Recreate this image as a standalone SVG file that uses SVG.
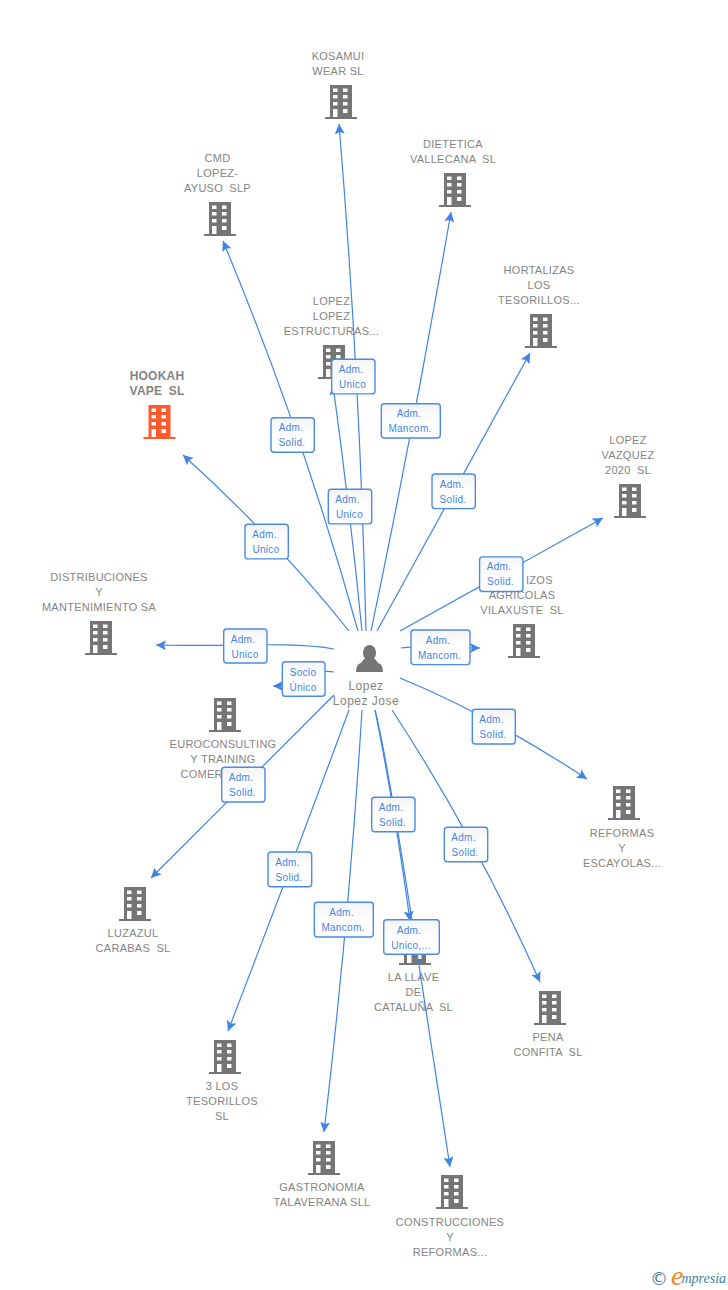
<svg xmlns="http://www.w3.org/2000/svg" width="728" height="1290" viewBox="0 0 728 1290">
<style>
text{font-family:"Liberation Sans",Arial,sans-serif}
.n{font-size:11px;fill:#848484;text-anchor:middle;letter-spacing:.27px}
.w{word-spacing:3px}
.s{text-anchor:start}
.h{font-size:12px;font-weight:bold;fill:#848484;text-anchor:middle;letter-spacing:.2px;word-spacing:3px}
.p{font-size:12px;fill:#848484;text-anchor:middle;letter-spacing:.5px}
.c{fill:none;stroke:#3f84e5;stroke-width:1.2;marker-end:url(#a)}
.b{fill:url(#g);stroke:#4a8ae8;stroke-width:1.4}
.l{font-size:10px;fill:#3f84e5;text-anchor:middle;letter-spacing:.3px}
.i{fill:#757575}
.o{fill:#ff5a2b}
</style>
<defs>
<linearGradient id="g" x1="0" y1="0" x2="0" y2="1"><stop offset="0" stop-color="#f4f4f6"/><stop offset=".5" stop-color="#fff"/></linearGradient>
<marker id="a" markerUnits="userSpaceOnUse" markerWidth="12" markerHeight="12" refX="10" refY="5" orient="auto"><path d="M0,0L10,5L0,10L2,5Z" fill="#3f84e5"/></marker>
<path id="b" fill-rule="evenodd" d="M5,0H27V32H32V34H0V32H5ZM8,3.5V7H12.5V3.500ZM18,3.500V7H22.500V3.500ZM8,10V13.500H12.500V10ZM18,10V13.500H22.500V10ZM8,17V20.500H12.500V17ZM18,17V20.500H22.500V17ZM8,24V32H12.500V24ZM18,24V28H22.500V24Z"/>
</defs>
<rect width="728" height="1290" fill="#fff"/>
<g id="node-kosamui"><text class="n" x="338" y="60">KOSAMUI</text><text class="n" x="338" y="75">WEAR SL</text><use href="#b" class="i" x="325" y="85"/></g>
<g id="node-dietetica"><text class="n" x="453" y="148">DIETETICA</text><text class="n w" x="453" y="163">VALLECANA SL</text><use href="#b" class="i" x="439" y="173"/></g>
<g id="node-cmd"><text class="n" x="217.500" y="162">CMD</text><text class="n" x="217.500" y="177">LOPEZ-</text><text class="n w" x="217.500" y="192">AYUSO SLP</text><use href="#b" class="i" x="204" y="202"/></g>
<g id="node-hortalizas"><text class="n" x="539" y="274">HORTALIZAS</text><text class="n" x="539" y="289">LOS</text><text class="n" x="539" y="304">TESORILLOS...</text><use href="#b" class="i" x="525" y="314"/></g>
<g id="node-lopez"><text class="n" x="331.500" y="305">LOPEZ</text><text class="n" x="331.500" y="320">LOPEZ</text><text class="n" x="331.500" y="335">ESTRUCTURAS...</text><use href="#b" class="i" x="318" y="345"/></g>
<g id="node-hookah"><text class="h" x="157" y="380">HOOKAH</text><text class="h" x="157" y="395">VAPE SL</text><use href="#b" class="o" x="143.500" y="405"/></g>
<g id="node-vazquez"><text class="n" x="628" y="444">LOPEZ</text><text class="n" x="628" y="459">VAZQUEZ</text><text class="n w" x="628" y="474">2020 SL</text><use href="#b" class="i" x="614" y="484"/></g>
<g id="node-distribuciones"><text class="n" x="99" y="581">DISTRIBUCIONES</text><text class="n" x="99" y="596">Y</text><text class="n" x="99" y="611">MANTENIMIENTO SA</text><use href="#b" class="i" x="85" y="621"/></g>
<g id="node-agricolas"><text class="n s" x="526" y="584">IZOS</text><text class="n" x="522" y="599">AGRICOLAS</text><text class="n w" x="522" y="614">VILAXUSTE SL</text><use href="#b" class="i" x="508" y="624"/></g>
<g id="node-euroconsulting"><use href="#b" class="i" x="209" y="698"/><text class="n" x="223" y="748">EUROCONSULTING</text><text class="n" x="223" y="763">Y TRAINING</text><text class="n s" x="180.500" y="778">COMER</text></g>
<g id="node-reformas"><use href="#b" class="i" x="608" y="786"/><text class="n" x="622" y="837">REFORMAS</text><text class="n" x="622" y="852">Y</text><text class="n" x="622" y="867">ESCAYOLAS...</text></g>
<g id="node-luzazul"><use href="#b" class="i" x="119" y="887"/><text class="n" x="133" y="937">LUZAZUL</text><text class="n w" x="133" y="952">CARABAS SL</text></g>
<g id="node-llave"><use href="#b" class="i" x="399" y="931"/><text class="n" x="413.500" y="981">LA LLAVE</text><text class="n" x="413.500" y="996">DE</text><text class="n w" x="413.500" y="1011">CATALUÑA SL</text></g>
<g id="node-pena"><use href="#b" class="i" x="534" y="991"/><text class="n" x="548" y="1041">PENA</text><text class="n w" x="548" y="1056">CONFITA SL</text></g>
<g id="node-3los"><use href="#b" class="i" x="209" y="1040"/><text class="n" x="222" y="1090">3 LOS</text><text class="n" x="222" y="1105">TESORILLOS</text><text class="n" x="222" y="1120">SL</text></g>
<g id="node-gastronomia"><use href="#b" class="i" x="308" y="1141"/><text class="n" x="322" y="1191">GASTRONOMIA</text><text class="n" x="322" y="1206">TALAVERANA SLL</text></g>
<g id="node-construcciones"><use href="#b" class="i" x="436" y="1175"/><text class="n" x="450" y="1226">CONSTRUCCIONES</text><text class="n" x="450" y="1241">Y</text><text class="n" x="450" y="1256">REFORMAS...</text></g>
<g id="node-person"><ellipse class="i" cx="369.500" cy="653" rx="6.500" ry="8"/><path class="i" d="M364,659L361,663Q356,664 356,672H383Q383,664 378,663L375,659Z"/><text class="p" x="366" y="690">Lopez</text><text class="p" x="366" y="705">Lopez Jose</text></g>
<g id="connectors">
<path class="c" d="M366,631Q360,377 339,124"/>
<path class="c" d="M371,631Q415,421 451,212"/>
<path class="c" d="M358,631Q304,436 223,241"/>
<path class="c" d="M377,631Q453,492 530,353"/>
<path class="c" d="M362,631Q350,510 333,385"/>
<path class="c" d="M349,631Q276,539 183,455"/>
<path class="c" d="M400,631L603,518"/>
<path class="c" d="M401,648C415,645 450,648 480,648"/>
<path class="c" d="M334,649C290,641 220,647 156,645"/>
<path class="c" d="M334,672C310,668 300,686 273,686"/>
<path class="c" d="M400,678Q490,715 587,779"/>
<path class="c" d="M334,695L151,878"/>
<path class="c" d="M375,710Q395,810 410,921"/>
<path class="c" d="M375,710C390,770 415,940 450,1167"/>
<path class="c" d="M392,710Q477,840 540,982"/>
<path class="c" d="M349,710Q290,870 228,1031"/>
<path class="c" d="M362,710Q349,921 324,1132"/>
<g id="lb1"><rect class="b" x="271" y="417.700" width="43.300" height="34.600" rx="3"/><text class="l" x="291" y="431">Adm.</text><text class="l" x="292" y="446">Solid.</text></g>
<g id="lb2"><rect class="b" x="331.700" y="359.300" width="43.300" height="34.600" rx="3"/><text class="l" x="351" y="373">Adm.</text><text class="l" x="352.500" y="388">Unico</text></g>
<g id="lb3"><rect class="b" x="381.300" y="403.700" width="59" height="34.300" rx="3"/><text class="l" x="409" y="417">Adm.</text><text class="l" x="410" y="432">Mancom.</text></g>
<g id="lb4"><rect class="b" x="328.300" y="489.300" width="43.400" height="34.600" rx="3"/><text class="l" x="347.500" y="503">Adm.</text><text class="l" x="349.500" y="518">Unico</text></g>
<g id="lb5"><rect class="b" x="245" y="524.300" width="43.300" height="34.600" rx="3"/><text class="l" x="264.500" y="538">Adm.</text><text class="l" x="266" y="553">Unico</text></g>
<g id="lb6"><rect class="b" x="432" y="474" width="43.300" height="34.600" rx="3"/><text class="l" x="452" y="488">Adm.</text><text class="l" x="453" y="503">Solid.</text></g>
<g id="lb7"><rect class="b" x="479.600" y="556.900" width="43.300" height="34.600" rx="3"/><text class="l" x="499" y="570">Adm.</text><text class="l" x="500.500" y="585">Solid.</text></g>
<g id="lb8"><rect class="b" x="411" y="630" width="59" height="34.600" rx="3"/><text class="l" x="438" y="643.500">Adm.</text><text class="l" x="439.500" y="658.500">Mancom.</text></g>
<g id="lb9"><rect class="b" x="223.700" y="629" width="43.300" height="34" rx="3"/><text class="l" x="243" y="642.500">Adm.</text><text class="l" x="245" y="657.500">Unico</text></g>
<g id="lb10"><rect class="b" x="282.300" y="661.700" width="42.700" height="34.600" rx="3"/><text class="l" x="303" y="675.500">Socio</text><text class="l" x="303" y="690.500">Único</text></g>
<g id="lb11"><rect class="b" x="472.300" y="709.300" width="43" height="34.700" rx="3"/><text class="l" x="491.500" y="723">Adm.</text><text class="l" x="493" y="738">Solid.</text></g>
<g id="lb12"><rect class="b" x="221.700" y="767.300" width="43.300" height="34.700" rx="3"/><text class="l" x="241" y="781">Adm.</text><text class="l" x="242.500" y="796">Solid.</text></g>
<g id="lb13"><rect class="b" x="371.700" y="797.300" width="43.300" height="34.400" rx="3"/><text class="l" x="391" y="811">Adm.</text><text class="l" x="392.500" y="826">Solid.</text></g>
<g id="lb14"><rect class="b" x="444.300" y="827.300" width="43.400" height="34.400" rx="3"/><text class="l" x="463.500" y="841">Adm.</text><text class="l" x="465" y="856">Solid.</text></g>
<g id="lb15"><rect class="b" x="268" y="852" width="43.700" height="34.700" rx="3"/><text class="l" x="287.500" y="866">Adm.</text><text class="l" x="289" y="881">Solid.</text></g>
<g id="lb16"><rect class="b" x="314.300" y="902.300" width="59" height="34.700" rx="3"/><text class="l" x="341.500" y="916">Adm.</text><text class="l" x="343" y="931">Mancom.</text></g>
<g id="lb17"><rect class="b" x="383.700" y="919.700" width="55.600" height="34.600" rx="3"/><text class="l" x="409" y="933.500">Adm.</text><text class="l" x="411" y="948.500">Unico,...</text></g>
</g>
<g id="logo"><text x="650" y="1285" font-size="18" fill="#3d7f9c" style="font-family:'DejaVu Sans',sans-serif">©</text><text x="671" y="1285" font-size="28" font-style="italic" fill="#f28a1e" style="font-family:'Liberation Serif',serif">e</text><text x="681.500" y="1283" font-size="14" font-style="italic" fill="#3d7f9c" style="font-family:'Liberation Serif',serif">mpresia</text></g>
</svg>
